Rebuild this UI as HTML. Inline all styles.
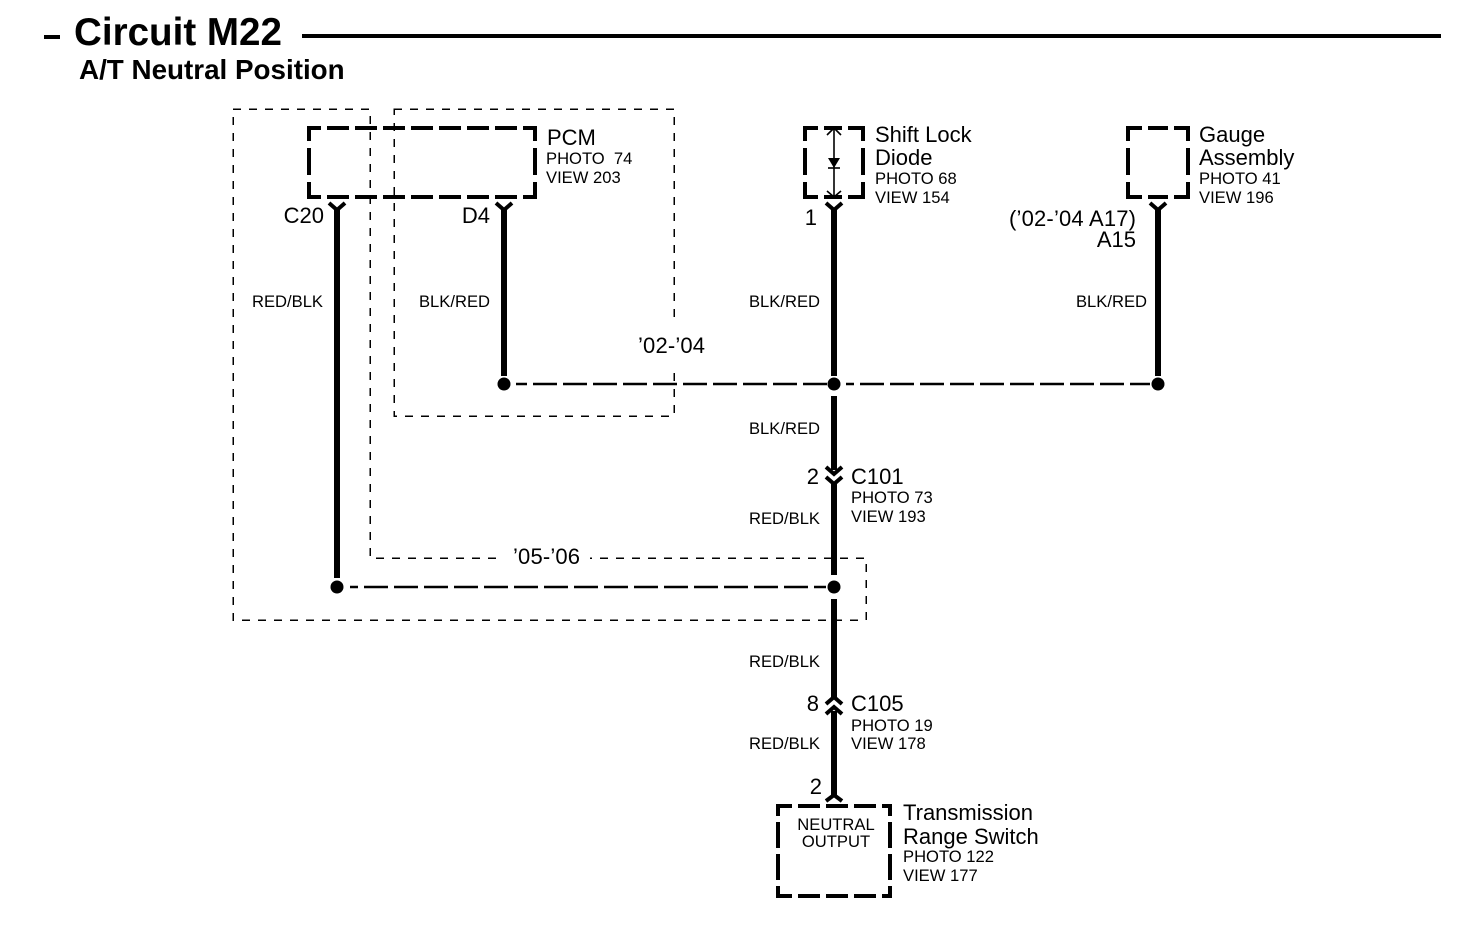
<!DOCTYPE html>
<html>
<head>
<meta charset="utf-8">
<style>
html,body{margin:0;padding:0;background:#fff;width:1472px;height:934px;overflow:hidden}
svg{display:block}
text{font-family:"Liberation Sans",Arial,sans-serif;fill:#000}
.t{font-size:22px}
.s{font-size:16.6px}
.e{text-anchor:end}
.m{text-anchor:middle}
.thin{fill:none;stroke:#000;stroke-width:1.5;stroke-dasharray:8 8;shape-rendering:crispEdges}
.h{stroke:#000;stroke-width:4;fill:none}
.w{stroke:#000;stroke-width:6;fill:none}
.c{stroke:#000;stroke-width:4;fill:none}
.d{stroke:#000;stroke-width:2.6;fill:none;stroke-dasharray:24 6}
</style>
</head>
<body>
<svg width="1472" height="934" viewBox="0 0 1472 934" xmlns="http://www.w3.org/2000/svg">
<rect width="1472" height="934" fill="#fff"/>

<!-- Title -->
<line x1="44" y1="37" x2="60" y2="37" stroke="#000" stroke-width="4"/>
<line x1="302" y1="36" x2="1441" y2="36" stroke="#000" stroke-width="4"/>
<text x="74" y="45" font-size="38.6" font-weight="bold">Circuit M22</text>
<text x="79" y="79" font-size="27.8" font-weight="bold">A/T Neutral Position</text>

<!-- Thin dashed regions -->
<path class="thin" d="M233 109H370V558H866V620H233Z"/>
<rect class="thin" x="394" y="109" width="280" height="307"/>
<rect x="498" y="545" width="92" height="24" fill="#fff"/>
<rect x="636" y="322" width="74" height="49" fill="#fff"/>

<!-- PCM box -->
<g class="h">
<path d="M309 128H535" stroke-dasharray="22 6" stroke-dashoffset="10"/>
<path d="M309 197H535" stroke-dasharray="22 6" stroke-dashoffset="10"/>
<path d="M309 126V199" stroke-dasharray="27 7" stroke-dashoffset="12"/>
<path d="M535 126V199" stroke-dasharray="27 7" stroke-dashoffset="12"/>
</g>
<text class="t" x="547" y="145">PCM</text>
<text class="s" x="546" y="164" xml:space="preserve">PHOTO  74</text>
<text class="s" x="546" y="183">VIEW 203</text>

<!-- Shift Lock Diode box -->
<g class="h">
<path d="M805 128H863" stroke-dasharray="18 6" stroke-dashoffset="5"/>
<path d="M805 197H863" stroke-dasharray="18 6" stroke-dashoffset="5"/>
<path d="M805 126V199" stroke-dasharray="27 7" stroke-dashoffset="12"/>
<path d="M863 126V199" stroke-dasharray="27 7" stroke-dashoffset="12"/>
</g>
<line x1="834" y1="128" x2="834" y2="197" stroke="#000" stroke-width="1.6"/>
<path d="M827 135L834 128L841 135M827 191L834 197L841 191" fill="none" stroke="#000" stroke-width="1.6"/>
<path d="M828 158H840L834 168Z" fill="#000"/>
<line x1="828" y1="168" x2="840" y2="168" stroke="#000" stroke-width="1.6"/>
<text class="t" x="875" y="142">Shift Lock</text>
<text class="t" x="875" y="165">Diode</text>
<text class="s" x="875" y="184">PHOTO 68</text>
<text class="s" x="875" y="203">VIEW 154</text>

<!-- Gauge box -->
<g class="h">
<path d="M1128 128H1188" stroke-dasharray="20 6" stroke-dashoffset="6"/>
<path d="M1128 197H1188" stroke-dasharray="20 6" stroke-dashoffset="6"/>
<path d="M1128 126V199" stroke-dasharray="27 7" stroke-dashoffset="12"/>
<path d="M1188 126V199" stroke-dasharray="27 7" stroke-dashoffset="12"/>
</g>
<text class="t" x="1199" y="142">Gauge</text>
<text class="t" x="1199" y="165">Assembly</text>
<text class="s" x="1199" y="184">PHOTO 41</text>
<text class="s" x="1199" y="203">VIEW 196</text>

<!-- Range switch box -->
<g class="h">
<path d="M778 806H890" stroke-dasharray="22 6" stroke-dashoffset="8"/>
<path d="M778 896H890" stroke-dasharray="22 6" stroke-dashoffset="8"/>
<path d="M778 804V898" stroke-dasharray="26 6" stroke-dashoffset="14"/>
<path d="M890 804V898" stroke-dasharray="26 6" stroke-dashoffset="14"/>
</g>
<text class="s m" x="836" y="830">NEUTRAL</text>
<text class="s m" x="836" y="847">OUTPUT</text>
<text class="t" x="903" y="820">Transmission</text>
<text class="t" x="903" y="844">Range Switch</text>
<text class="s" x="903" y="862">PHOTO 122</text>
<text class="s" x="903" y="881">VIEW 177</text>

<!-- Wires -->
<g class="w">
<path d="M337 208V578"/>
<path d="M504 208V376"/>
<path d="M834 208V376"/>
<path d="M1158 208V376"/>
<path d="M834 396V470"/>
<path d="M834 484V575"/>
<path d="M834 599V697"/>
<path d="M834 711V796"/>
</g>

<!-- Connectors -->
<g class="c">
<path d="M329 203L337 210L345 203"/>
<path d="M496 203L504 210L512 203"/>
<path d="M826 203L834 210L842 203"/>
<path d="M1150 203L1158 210L1166 203"/>
<path d="M826 467L834 474L842 467"/>
<path d="M826 477L834 484L842 477"/>
<path d="M826 704L834 697L842 704"/>
<path d="M826 714L834 707L842 714"/>
<path d="M826 801L834 795L842 801"/>
</g>

<!-- Junction dashes -->
<path class="d" d="M516 384H828" stroke-dashoffset="13"/>
<path class="d" d="M846 384H1150" stroke-dashoffset="16"/>
<path class="d" d="M350 587H826" stroke-dashoffset="16"/>

<!-- Dots -->
<circle cx="504" cy="384" r="6.5"/>
<circle cx="834" cy="384" r="6.5"/>
<circle cx="1158" cy="384" r="6.5"/>
<circle cx="337" cy="587" r="6.5"/>
<circle cx="834" cy="587" r="6.5"/>

<!-- Pin labels -->
<text class="t e" x="324" y="223">C20</text>
<text class="t e" x="490" y="223">D4</text>
<text class="t e" x="817" y="225">1</text>
<text class="t" x="1009" y="226" textLength="127">(’02-’04 A17)</text>
<text class="t e" x="1136" y="247">A15</text>
<text class="t e" x="819" y="484">2</text>
<text class="t" x="851" y="484">C101</text>
<text class="s" x="851" y="503">PHOTO 73</text>
<text class="s" x="851" y="522">VIEW 193</text>
<text class="t e" x="819" y="711">8</text>
<text class="t" x="851" y="711">C105</text>
<text class="s" x="851" y="731">PHOTO 19</text>
<text class="s" x="851" y="749">VIEW 178</text>
<text class="t e" x="822" y="794">2</text>

<!-- Wire labels -->
<text class="s e" x="323" y="307">RED/BLK</text>
<text class="s e" x="490" y="307">BLK/RED</text>
<text class="s e" x="820" y="307">BLK/RED</text>
<text class="s e" x="1147" y="307">BLK/RED</text>
<text class="s e" x="820" y="434">BLK/RED</text>
<text class="s e" x="820" y="524">RED/BLK</text>
<text class="s e" x="820" y="667">RED/BLK</text>
<text class="s e" x="820" y="749">RED/BLK</text>

<!-- Year labels -->
<text class="t" x="638" y="353" textLength="67">’02-’04</text>
<text class="t" x="513" y="564" textLength="67">’05-’06</text>
</svg>
</body>
</html>
